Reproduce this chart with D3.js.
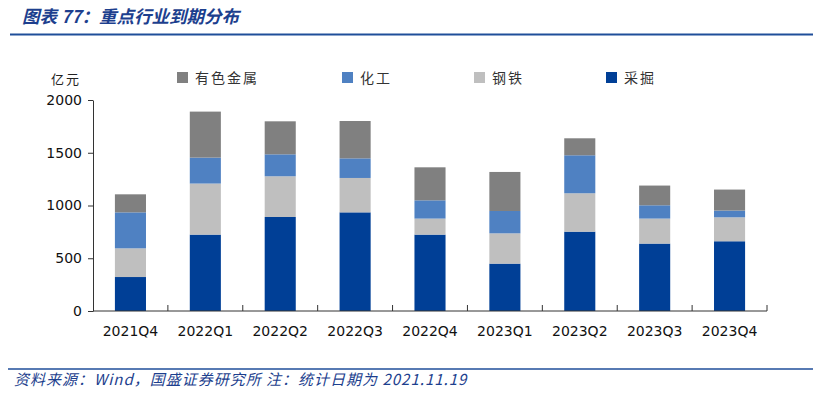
<!DOCTYPE html>
<html>
<head>
<meta charset="utf-8">
<script src="https://cdn.jsdelivr.net/npm/d3@7"></script>
<style>
  body { margin: 0; background: #fff; }
  svg { display: block; }
</style>
</head>
<body>
<svg id="chart" width="813" height="397"></svg>
<script>
const quarters = ["2021Q4", "2022Q1", "2022Q2", "2022Q3", "2022Q4",
    "2023Q1", "2023Q2", "2023Q3", "2023Q4"]

// series, bottom to top
const mining = [322, 724, 891, 935, 724, 449, 752, 639, 661]      // 采掘
const steel = [272, 484, 386, 326, 152, 287, 364, 237, 227]       // 钢铁
const chemical = [341, 246, 208, 186, 173, 212, 360, 126, 64]     // 化工
const metals = [171, 436, 313, 354, 313, 370, 161, 187, 199]      // 有色金属

const yTicks = [0, 500, 1000, 1500, 2000]

const seriesNames = ["采掘", "钢铁", "化工", "有色金属"]
const legendOrder = ["有色金属", "化工", "钢铁", "采掘"]

const colorScale = d3.scaleOrdinal()
    .domain(seriesNames)
    .range(["#003f96", "#bfbfbf", "#4f81c2", "#808080"])

const rows = quarters.map((q, i) => ({
    quarter: q,
    "采掘": mining[i],
    "钢铁": steel[i],
    "化工": chemical[i],
    "有色金属": metals[i]
}))

const margin = { top: 100, right: 46, bottom: 86, left: 93 }
const svg = d3.select("#chart")
const width = 813 - margin.left - margin.right
const height = 397 - margin.top - margin.bottom

const numFont = "'DejaVu Sans', Verdana, sans-serif"
const cjkFont = "'Noto Sans CJK SC', sans-serif"

// title + rules
svg.append("text")
    .attr("x", 22).attr("y", 23)
    .attr("font-family", cjkFont)
    .attr("font-size", 17.5)
    .attr("font-weight", "bold")
    .attr("font-style", "italic")
    .attr("fill", "#1d3f8e")
    .text("图表 77：重点行业到期分布")

svg.append("line")
    .attr("x1", 10).attr("x2", 813)
    .attr("y1", 34.5).attr("y2", 34.5)
    .attr("stroke", "#1f4e9a").attr("stroke-width", 2)

svg.append("line")
    .attr("x1", 8).attr("x2", 813)
    .attr("y1", 369).attr("y2", 369)
    .attr("stroke", "#1f4e9a").attr("stroke-width", 1.5)

svg.append("text")
    .attr("x", 14).attr("y", 385)
    .attr("font-family", cjkFont)
    .attr("font-size", 15)
    .attr("font-style", "italic")
    .attr("letter-spacing", 1)
    .attr("fill", "#1d3f8e")
    .text("资料来源：Wind，国盛证券研究所 注：统计日期为 2021.11.19")

const g = svg.append("g")
    .attr("transform", `translate(${margin.left},${margin.top})`)

const xScale = d3.scaleBand()
    .domain(quarters)
    .range([0, width])
    .paddingInner(0.585)
    .paddingOuter(0.2925)

const yScale = d3.scaleLinear()
    .domain([0, 2000])
    .range([height, 0])

const stacked = d3.stack().keys(seriesNames)(rows)

g.selectAll(".layer")
    .data(stacked)
    .enter()
    .append("g")
    .attr("class", "layer")
    .attr("fill", d => colorScale(d.key))
    .selectAll("rect")
    .data(d => d)
    .enter()
    .append("rect")
    .attr("x", d => xScale(d.data.quarter))
    .attr("width", xScale.bandwidth())
    .attr("y", d => yScale(d[1]))
    .attr("height", d => yScale(d[0]) - yScale(d[1]))

// y axis
const yAxis = g.append("g")
    .call(d3.axisLeft(yScale).tickValues(yTicks).tickFormat(d3.format("d"))
        .tickSize(5).tickSizeOuter(0).tickPadding(6))
yAxis.select(".domain").attr("stroke", "#333")
yAxis.selectAll(".tick line").attr("stroke", "#333")
yAxis.selectAll("text")
    .attr("font-family", numFont)
    .attr("font-size", 14)
    .attr("fill", "#111")

// x axis with ticks between categories
const step = xScale.step()
const xAxis = g.append("g")
    .attr("transform", `translate(0,${height})`)
xAxis.append("line")
    .attr("x1", 0).attr("x2", width)
    .attr("stroke", "#333")
xAxis.selectAll(".sep")
    .data(d3.range(1, quarters.length + 1))
    .enter()
    .append("line")
    .attr("x1", i => i * step).attr("x2", i => i * step)
    .attr("y1", -6).attr("y2", 0)
    .attr("stroke", "#333")
xAxis.selectAll(".lbl")
    .data(quarters)
    .enter()
    .append("text")
    .attr("x", d => xScale(d) + xScale.bandwidth() / 2)
    .attr("y", 25)
    .attr("text-anchor", "middle")
    .attr("font-family", numFont)
    .attr("font-size", 14)
    .attr("fill", "#111")
    .text(d => d)

// unit
svg.append("text")
    .attr("x", 51).attr("y", 84)
    .attr("font-family", cjkFont)
    .attr("font-size", 13)
    .attr("fill", "#222")
    .attr("letter-spacing", 2)
    .text("亿元")

// legend
const legendX = [177, 342, 474, 606]
const legend = svg.selectAll(".legend")
    .data(legendOrder)
    .enter()
    .append("g")
    .attr("class", "legend")
    .attr("transform", (d, i) => `translate(${legendX[i]},72)`)
legend.append("rect")
    .attr("width", 11).attr("height", 11)
    .attr("fill", d => colorScale(d))
legend.append("text")
    .attr("x", 18).attr("y", 10.5)
    .attr("font-family", cjkFont)
    .attr("font-size", 14)
    .attr("fill", "#333")
    .attr("letter-spacing", 2)
    .text(d => d)
</script>
</body>
</html>
